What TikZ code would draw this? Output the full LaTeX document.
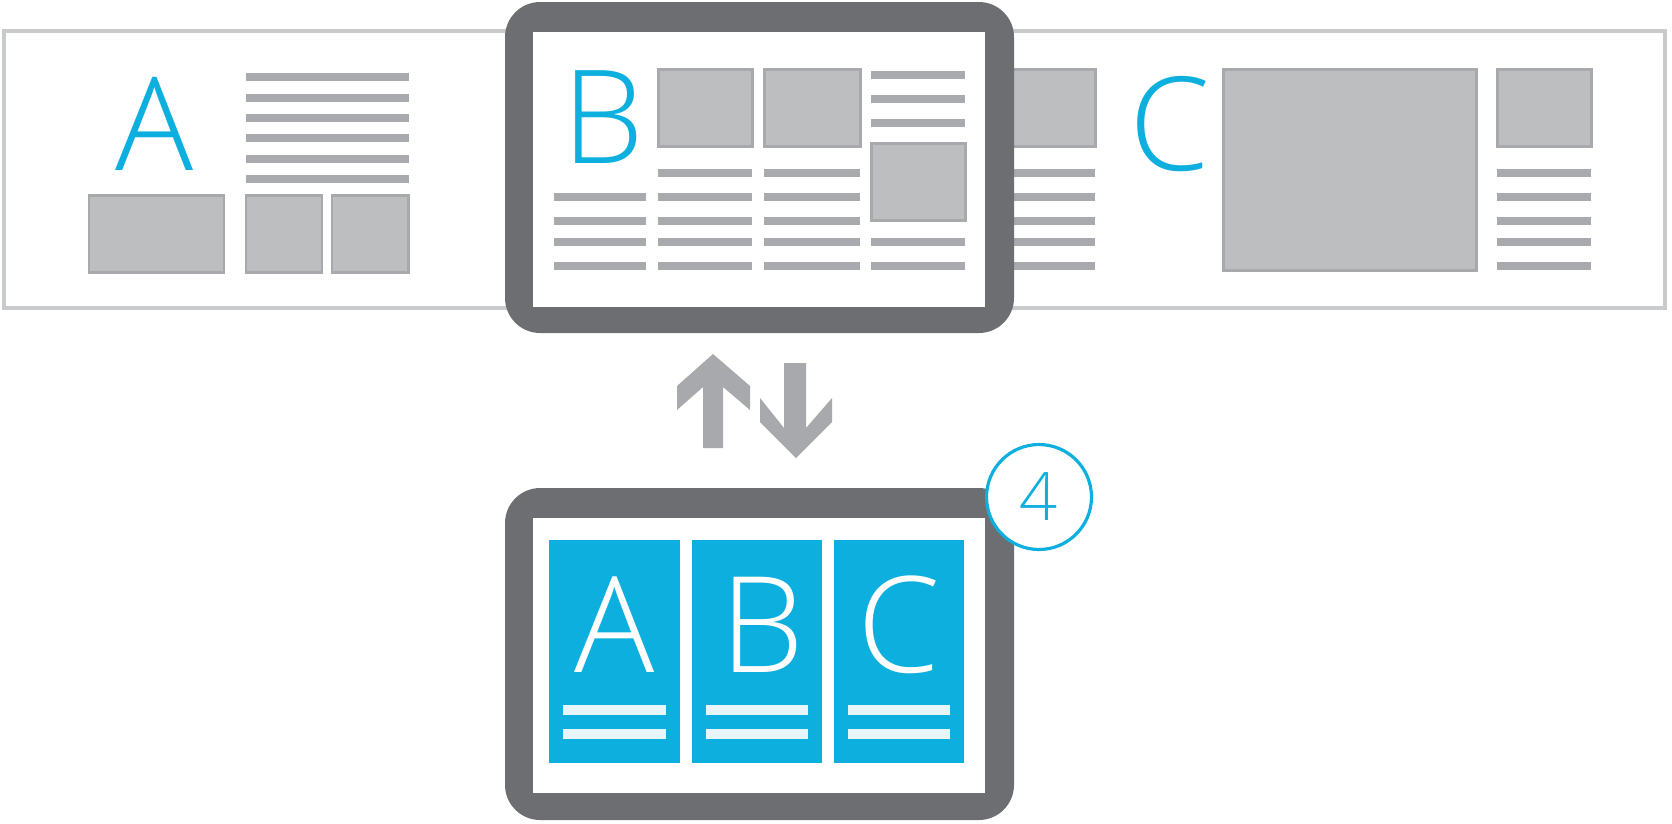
\documentclass[tikz,border=0pt]{standalone}
\usepackage{fontspec}
\setmainfont{Open Sans}
\newfontfamily\lightfont{Open Sans Light}
\usepackage{tikz}

\definecolor{tileblue}{HTML}{0DAFDF}
\definecolor{framegray}{HTML}{6D6E71}
\definecolor{boxfill}{HTML}{BDBEC0}
\definecolor{boxedge}{HTML}{A7A9AC}
\definecolor{linegray}{HTML}{A9AAAD}
\definecolor{stripgray}{HTML}{C9CACC}
\definecolor{arrowgray}{HTML}{A7A9AC}
\definecolor{tileline}{HTML}{E8F6FC}

\tikzset{
  strip/.style={draw=stripgray, line width=2.3pt},
  block/.style={draw=boxedge, fill=boxfill, line width=1.7pt},
  txtline/.style={draw=linegray, line width=4pt},
  tabframe/.style={fill=framegray, rounded corners=20pt},
  bigletter/.style={inner sep=0pt, anchor=base, text=tileblue, font=\lightfont\fontsize{74}{74}\selectfont},
  tileletter/.style={inner sep=0pt, anchor=base, text=white, font=\lightfont\fontsize{76}{76}\selectfont},
}

\begin{document}
\begin{tikzpicture}[x=0.02cm, y=-0.02cm]
            \useasboundingbox (0,0) rectangle (1672,823);

            % long page strip
            \draw[strip] (4,31) rectangle (1665,308);

            % page A
            \node[bigletter] (letA) at (155,170) {A};
            \foreach \y in {77,98,118,138,159,179} \draw[txtline] (246,\y) -- (409,\y);
            \draw[block] (89,195) rectangle (224,272);
            \draw[block] (246,195) rectangle (322,272);
            \draw[block] (332,195) rectangle (408,272);

            % page C
            \draw[block] (1000,69) rectangle (1095,146);
            \foreach \y in {173,197,221,242,266} \draw[txtline] (1000,\y) -- (1095,\y);
            \node[bigletter] (letC) at (1170,170) {C};
            \draw[block] (1223,69) rectangle (1476,270);
            \draw[block] (1497,69) rectangle (1591,146);
            \foreach \y in {173,197,221,242,266} \draw[txtline] (1497,\y) -- (1591,\y);

            % tablet showing page B
            \fill[tabframe] (505,2) rectangle (1014,333);
            \fill[white] (533,32) rectangle (985,307);
            \node[bigletter] (letB) at (603,163) {B};
            \draw[block] (658,69) rectangle (752,146);
            \draw[block] (764,69) rectangle (860,146);
            \foreach \y in {75,99,123} \draw[txtline] (871,\y) -- (965,\y);
            \draw[block] (871,143) rectangle (965,220);
            \foreach \xa/\xb in {658/752,764/860} \draw[txtline] (\xa,173) -- (\xb,173);
            \foreach \y in {197,221}
              \foreach \xa/\xb in {554/646,658/752,764/860} \draw[txtline] (\xa,\y) -- (\xb,\y);
            \foreach \y in {242,266}
              \foreach \xa/\xb in {554/646,658/752,764/860,871/965} \draw[txtline] (\xa,\y) -- (\xb,\y);

            % swap arrows
            \fill[arrowgray] (713,354) -- (750,386) -- (750,410) -- (723,387) -- (723,448)
              -- (703,448) -- (703,387) -- (677,410) -- (677,386) -- cycle;
            \fill[arrowgray] (784,363) -- (806,363) -- (806,428) -- (832,398) -- (832,422)
              -- (796,458) -- (760,422) -- (760,398) -- (784,428) -- cycle;

            % tablet with the three tiles
            \fill[tabframe] (505,488) rectangle (1014,820);
            \fill[white] (533,518) rectangle (985,793);
            \foreach \xa/\xb/\t/\c in {549/680/A/615, 692/822/B/762, 834/964/C/899} {
              \fill[tileblue] (\xa,540) rectangle (\xb,763);
              \node[tileletter] (tile\t) at (\c,672) {\t};
              \draw[tileline, line width=5.7pt] (\xa+14,710) -- (\xb-14,710);
              \draw[tileline, line width=5.7pt] (\xa+14,734) -- (\xb-14,734);
            }

            \node[circle, draw=tileblue, fill=white, line width=1.8pt, minimum size=2.1cm,
              inner sep=0pt, text=tileblue, font=\lightfont\fontsize{38}{38}\selectfont] (badge) at (1039,497) {4};
\end{tikzpicture}
\end{document}
